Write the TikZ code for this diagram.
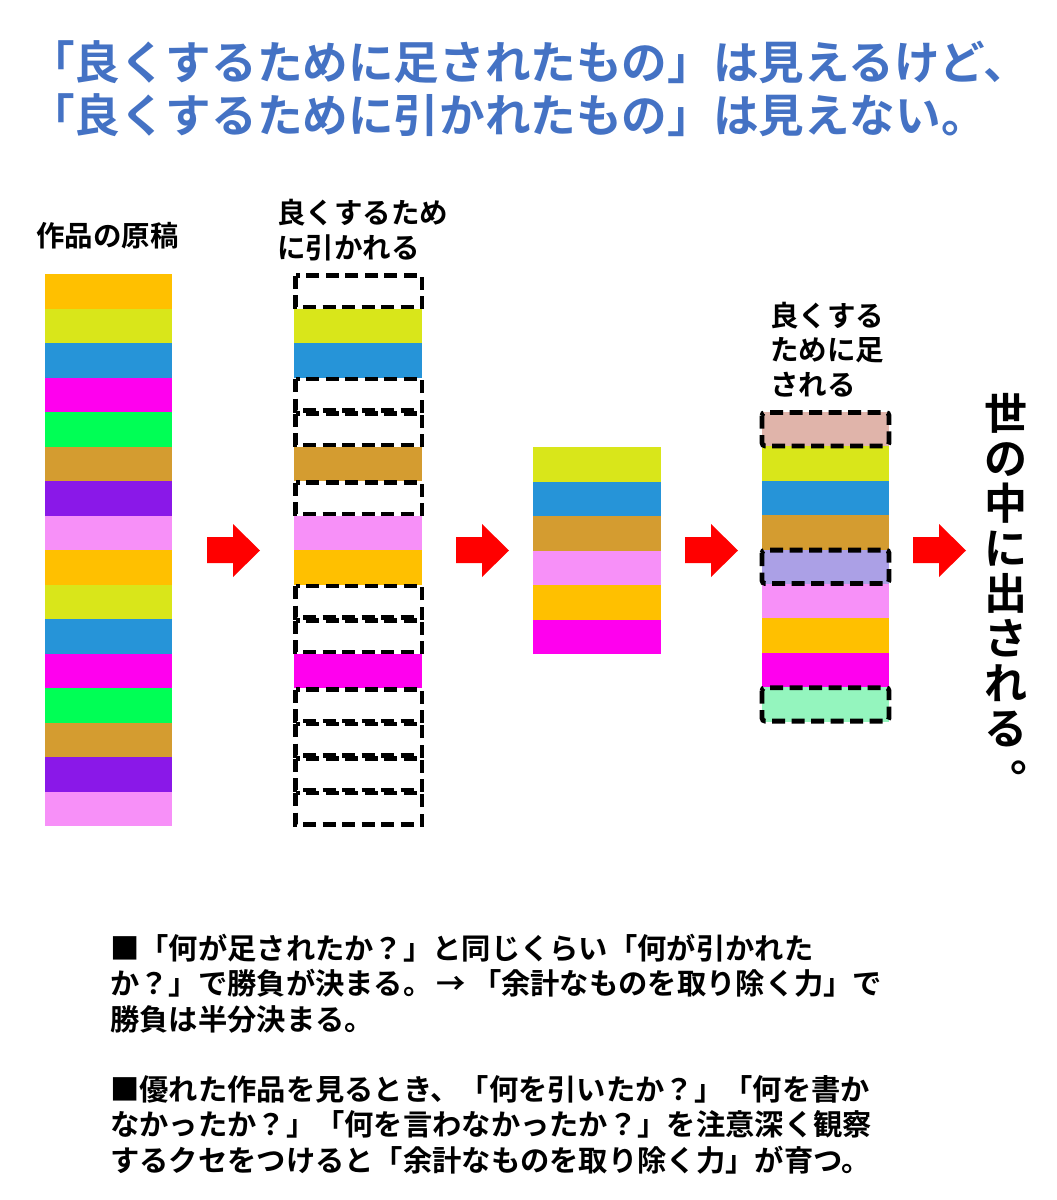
\documentclass[tikz,border=0pt]{standalone}
\usepackage{fontspec}
\setmainfont{Noto Sans CJK JP}[BoldFont={Noto Sans CJK JP Bold}]
\definecolor{cOr}{HTML}{FFC000}
\definecolor{cYe}{HTML}{D9E61A}
\definecolor{cBl}{HTML}{2694D8}
\definecolor{cMa}{HTML}{FF00EE}
\definecolor{cGr}{HTML}{00FF55}
\definecolor{cBr}{HTML}{D49C30}
\definecolor{cPu}{HTML}{8A18E8}
\definecolor{cPi}{HTML}{F790F8}
\definecolor{cRo}{HTML}{E0B4AA}
\definecolor{cLa}{HTML}{ABA0E6}
\definecolor{cMi}{HTML}{94F5BE}
\definecolor{titleblue}{HTML}{4472C4}
\definecolor{arrowred}{HTML}{FF0000}
\begin{document}
\begin{tikzpicture}[x=1pt,y=-1pt,
  dashbox/.style={draw=black,line width=4.8pt,dash pattern=on 13pt off 6.5pt},
  redarrow/.style={fill=arrowred,draw=none},
  lbl/.style={inner sep=0pt,align=left,font=\bfseries\fontsize{28.5}{34.5}\selectfont},
  titletext/.style={inner sep=0pt,align=left,text=titleblue,font=\bfseries\fontsize{45.6}{53}\selectfont},
  bodytext/.style={inner sep=0pt,align=left,font=\bfseries\fontsize{29.3}{35.3}\selectfont}]
\useasboundingbox (0,0) rectangle (1057,1200);
\fill[white] (0,0) rectangle (1057,1200);

% title
\node[titletext,anchor=west] (title) at (29,88.5) {「良くするために足されたもの」は見えるけど、\\「良くするために引かれたもの」は見えない。};

% labels
\node[lbl,anchor=west] (lab1) at (36,236) {作品の原稿};
\node[lbl,anchor=west] (lab2) at (277,230) {良くするため\\に引かれる};
\node[lbl,anchor=west] (lab4) at (770,349.5) {良くする\\ために足\\される};

% column 1
\foreach \c [count=\i from 0] in {cOr,cYe,cBl,cMa,cGr,cBr,cPu,cPi,cOr,cYe,cBl,cMa,cGr,cBr,cPu,cPi}
  \fill[\c] (45,{274+34.5*\i}) rectangle (172,{274+34.5*(\i+1)});

% column 2
\foreach \i/\c in {1/cYe,2/cBl,5/cBr,7/cPi,8/cOr,11/cMa}
  \fill[\c] (294,{274+34.5*\i}) rectangle (422,{274+34.5*(\i+1)});
\foreach \i in {0,3,4,6,9,10,12,13,14,15}
  \draw[dashbox] (295.5,{275.5+34.5*\i}) rectangle (422,{272.5+34.5*(\i+1)});

% column 3
\foreach \c [count=\i from 0] in {cYe,cBl,cBr,cPi,cOr,cMa}
  \fill[\c] (533,{447+34.5*\i}) rectangle (661,{447+34.5*(\i+1)});

% column 4
\foreach \c [count=\i from 0] in {cRo,cYe,cBl,cBr,cLa,cPi,cOr,cMa,cMi}
  \fill[\c] (762,{412+34.4*\i}) rectangle (889,{412+34.4*(\i+1)});
\foreach \i in {0,4,8}
  \draw[dashbox,rounded corners=3pt] (762,{412.5+34.4*\i}) rectangle (889,{411.5+34.4*(\i+1)});

% arrows
\foreach \x in {207,456,685,913}
  \fill[redarrow] (\x,537) -- (\x+26,537) -- (\x+26,524) -- (\x+53,550.5) -- (\x+26,577) -- (\x+26,563) -- (\x,563) -- cycle;

% vertical text
\node[inner sep=0pt,align=center,font=\bfseries\fontsize{43}{45}\selectfont] (vert) at (1006,570.5) {世\\の\\中\\に\\出\\さ\\れ\\る};
\node[inner sep=0pt,font=\bfseries\fontsize{43}{45}\selectfont] (kuten) at (1032,768) {。};

% bottom text
\node[bodytext,anchor=west] (body) at (110,1054) {■「何が足されたか？」と同じくらい「何が引かれた\\か？」で勝負が決まる。\hspace{0.15em}→\hspace{0.2em}「余計なものを取り除く力」で\\勝負は半分決まる。\\[35.3pt]■優れた作品を見るとき、「何を引いたか？」「何を書か\\なかったか？」「何を言わなかったか？」を注意深く観察\\するクセをつけると「余計なものを取り除く力」が育つ。};
\end{tikzpicture}
\end{document}
